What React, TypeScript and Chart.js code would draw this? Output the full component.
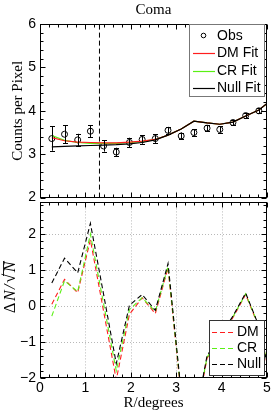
import React, { useEffect, useRef } from "react";
import { Chart, registerables } from "chart.js";
Chart.register(...registerables);

// ---- data ----
const xObs = [0.26, 0.54, 0.83, 1.11, 1.40, 1.68, 1.97, 2.25, 2.54, 2.82, 3.11, 3.39, 3.68, 3.96, 4.25, 4.53, 4.82];
const obs = [3.36, 3.46, 3.33, 3.53, 3.19, 3.05, 3.27, 3.34, 3.36, 3.55, 3.42, 3.50, 3.60, 3.57, 3.73, 3.89, 4.00];
const obsErr = [0.28, 0.21, 0.14, 0.14, 0.13, 0.10, 0.11, 0.10, 0.10, 0.08, 0.08, 0.07, 0.07, 0.07, 0.06, 0.06, 0.06];

const xFit = [0.26, 0.54, 0.83, 1.11, 1.40, 1.68, 1.97, 2.25, 2.54, 2.82, 3.11, 3.39, 3.68, 3.96, 4.25, 4.53, 4.82, 5.11];
const dmFit = [3.38, 3.31, 3.28, 3.27, 3.26, 3.26, 3.28, 3.30, 3.34, 3.44, 3.58, 3.76, 3.72, 3.69, 3.74, 3.88, 4.02, 4.26];
const crFit = [3.43, 3.32, 3.27, 3.25, 3.25, 3.25, 3.27, 3.29, 3.34, 3.44, 3.58, 3.76, 3.72, 3.69, 3.74, 3.88, 4.02, 4.26];
const nullFit = [3.17, 3.18, 3.19, 3.20, 3.21, 3.22, 3.24, 3.27, 3.33, 3.44, 3.58, 3.76, 3.72, 3.69, 3.74, 3.88, 4.02, 4.26];

const dmRes = [0.05, 0.74, 0.37, 1.84, -0.14, -2.05, -0.23, 0.23, -0.21, 1.06, -2.50, -3.40, -1.45, -0.90, -0.32, 0.32, -0.58, -2.20];
const crRes = [-0.28, 0.70, 0.40, 2.00, 0.07, -1.80, -0.10, 0.23, -0.15, 1.10, -2.45, -3.35, -1.42, -0.88, -0.30, 0.34, -0.56, -2.18];
const nullRes = [0.64, 1.33, 0.92, 2.30, 0.33, -1.60, 0.02, 0.32, -0.12, 1.18, -2.40, -3.30, -1.38, -0.85, -0.28, 0.36, -0.55, -2.15];

const cutR = 1.31;
const xTickLabels = [0, 1, 2, 3, 4, 5];

const SANS = '"Liberation Sans", Arial, sans-serif';
const SERIF = '"Liberation Serif", "Times New Roman", serif';
const RED = "rgb(255,30,30)";
const GREEN = "rgb(90,240,20)";

const pts = (xs: number[], ys: number[]) => xs.map((x, i) => ({ x, y: ys[i] }));

function drawFrameAndTicks(chart: any, yMin: number, yMax: number, topTicks: boolean, bottomTicks: boolean) {
  const { ctx, chartArea: a, scales } = chart;
  const xs = scales.x, ys = scales.y;
  ctx.save();
  ctx.strokeStyle = "#000";
  ctx.lineWidth = 1;
  const L = Math.round(a.left) + 0.5, R = Math.round(a.right) - 0.5;
  const T = Math.round(a.top) + 0.5, B = Math.round(a.bottom) - 0.5;
  ctx.beginPath();
  for (let k = 0; k <= 25; k++) {
    const v = k * 0.2;
    const px = Math.round(xs.getPixelForValue(v)) + 0.5;
    const len = k % 5 === 0 ? 5 : 3;
    if (bottomTicks) { ctx.moveTo(px, B); ctx.lineTo(px, B - len); }
    if (topTicks) { ctx.moveTo(px, T); ctx.lineTo(px, T + len); }
  }
  const n = Math.round((yMax - yMin) / 0.2);
  for (let k = 0; k <= n; k++) {
    const v = yMin + k * 0.2;
    if (v > yMax + 1e-6) break;
    const py = Math.round(ys.getPixelForValue(v)) + 0.5;
    const len = k % 5 === 0 ? 5 : 3;
    ctx.moveTo(L, py); ctx.lineTo(L + len, py);
    ctx.moveTo(R, py); ctx.lineTo(R - len, py);
  }
  ctx.stroke();
  ctx.strokeRect(L, T, R - L, B - T);
  ctx.restore();
}

const topPlugin = {
  id: "topDecor",
  afterDatasetsDraw(chart: any) {
    const { ctx, scales } = chart;
    const xs = scales.x, ys = scales.y;
    ctx.save();
    ctx.strokeStyle = "#000";
    ctx.lineWidth = 1;
    ctx.beginPath();
    xObs.forEach((xv, i) => {
      const px = Math.round(xs.getPixelForValue(xv)) + 0.5;
      const y1 = ys.getPixelForValue(obs[i] - obsErr[i]);
      const y2 = ys.getPixelForValue(obs[i] + obsErr[i]);
      ctx.moveTo(px, y1); ctx.lineTo(px, y2);
      ctx.moveTo(px - 2.5, Math.round(y1) + 0.5); ctx.lineTo(px + 2.5, Math.round(y1) + 0.5);
      ctx.moveTo(px - 2.5, Math.round(y2) + 0.5); ctx.lineTo(px + 2.5, Math.round(y2) + 0.5);
    });
    ctx.stroke();
    ctx.restore();
  },
  afterDraw(chart: any) {
    const { ctx, chartArea: a } = chart;
    drawFrameAndTicks(chart, 2, 6, true, true);
    ctx.save();
    ctx.fillStyle = "#000";
    ctx.font = `15px ${SERIF}`;
    ctx.textAlign = "center";
    ctx.textBaseline = "middle";
    ctx.fillText("Coma", (a.left + a.right) / 2, 10);
    ctx.save();
    ctx.translate(18, (a.top + a.bottom) / 2);
    ctx.rotate(-Math.PI / 2);
    ctx.fillText("Counts per Pixel", 0, 0);
    ctx.restore();
    // legend
    const bx = 189.5, by = 24.5, bw = 75, bh = 72;
    ctx.fillStyle = "#fff";
    ctx.fillRect(bx, by, bw, bh);
    ctx.strokeStyle = "#777";
    ctx.lineWidth = 1;
    ctx.strokeRect(bx, by, bw, bh);
    ctx.font = `14px ${SANS}`;
    ctx.textAlign = "left";
    ctx.textBaseline = "middle";
    const rows = [
      { t: "Obs", y: 35.5, c: null },
      { t: "DM Fit", y: 53, c: RED },
      { t: "CR Fit", y: 70.5, c: GREEN },
      { t: "Null Fit", y: 88, c: "#000" },
    ];
    rows.forEach((r) => {
      if (r.c) {
        ctx.strokeStyle = r.c;
        ctx.lineWidth = 1.2;
        ctx.beginPath();
        ctx.moveTo(193, Math.round(r.y) + 0.5);
        ctx.lineTo(215, Math.round(r.y) + 0.5);
        ctx.stroke();
      } else {
        ctx.strokeStyle = "#000";
        ctx.lineWidth = 1;
        ctx.beginPath();
        ctx.arc(203.5, r.y, 2.3, 0, Math.PI * 2);
        ctx.stroke();
      }
      ctx.fillStyle = "#000";
      ctx.fillText(r.t, 217, r.y + 0.5);
    });
    ctx.restore();
  },
};

const bottomPlugin = {
  id: "bottomDecor",
  beforeDatasetsDraw(chart: any) {
    const { ctx, chartArea: a, scales } = chart;
    ctx.save();
    ctx.strokeStyle = "#b8b8b8";
    ctx.lineWidth = 1;
    ctx.setLineDash([1, 2]);
    ctx.beginPath();
    [1, 2, 3, 4].forEach((v) => {
      const px = Math.round(scales.x.getPixelForValue(v)) + 0.5;
      ctx.moveTo(px, a.top); ctx.lineTo(px, a.bottom);
    });
    [-1, 0, 1, 2].forEach((v) => {
      const py = Math.round(scales.y.getPixelForValue(v)) + 0.5;
      ctx.moveTo(a.left, py); ctx.lineTo(a.right, py);
    });
    ctx.stroke();
    ctx.restore();
  },
  afterDraw(chart: any) {
    const { ctx, chartArea: a } = chart;
    drawFrameAndTicks(chart, -2, 2.88, true, true);
    ctx.save();
    ctx.fillStyle = "#000";
    ctx.font = `15px ${SERIF}`;
    ctx.textAlign = "center";
    ctx.textBaseline = "middle";
    ctx.fillText("R/degrees", (a.left + a.right) / 2, 213);
    // y title: ΔN/√N
    ctx.save();
    ctx.translate(11, (a.top + a.bottom) / 2 - 3);
    ctx.rotate(-Math.PI / 2);
    ctx.textAlign = "left";
    ctx.textBaseline = "middle";
    const parts = [
      { t: "Δ", f: `16px ${SERIF}` },
      { t: "N", f: `italic 16px ${SERIF}` },
      { t: "/", f: `italic 16px ${SERIF}` },
      { t: "√", f: `17px ${SERIF}` },
      { t: "N", f: `italic 16px ${SERIF}` },
    ];
    const gap = 1.5;
    const widths = parts.map((p) => { ctx.font = p.f; return ctx.measureText(p.t).width; });
    const total = widths.reduce((s, w) => s + w, 0) + gap * (parts.length - 1);
    let xx = -total / 2;
    let olStart = 0;
    parts.forEach((p, i) => {
      ctx.font = p.f;
      ctx.fillText(p.t, xx, 0);
      if (i === 3) olStart = xx + widths[i] * 0.75;
      xx += widths[i] + (i < parts.length - 1 ? gap : 0);
    });
    ctx.strokeStyle = "#000";
    ctx.lineWidth = 0.9;
    ctx.beginPath();
    ctx.moveTo(olStart, -7.5);
    ctx.lineTo(xx + 0.5, -7.5);
    ctx.stroke();
    ctx.restore();
    // legend
    const bx = 209.5, by = 320.5 - 190, bw = 55, bh = 55;
    ctx.fillStyle = "#fff";
    ctx.fillRect(bx, by, bw, bh);
    ctx.strokeStyle = "#333";
    ctx.lineWidth = 1;
    ctx.strokeRect(bx, by, bw, bh);
    ctx.font = `14px ${SANS}`;
    ctx.textAlign = "left";
    ctx.textBaseline = "middle";
    const rows = [
      { t: "DM", y: 332 - 190, c: RED },
      { t: "CR", y: 348 - 190, c: GREEN },
      { t: "Null", y: 364 - 190, c: "#000" },
    ];
    rows.forEach((r) => {
      ctx.strokeStyle = r.c;
      ctx.lineWidth = 1.1;
      ctx.setLineDash([5, 3]);
      ctx.beginPath();
      ctx.moveTo(212, r.y + 0.5);
      ctx.lineTo(235, r.y + 0.5);
      ctx.stroke();
      ctx.setLineDash([]);
      ctx.fillStyle = "#000";
      ctx.fillText(r.t, 237, r.y + 0.5);
    });
    ctx.restore();
  },
};

const minusFmt = (v: any) => String(v).replace("-", "\u2212");

export default function App() {
  const topRef = useRef<HTMLCanvasElement | null>(null);
  const botRef = useRef<HTMLCanvasElement | null>(null);

  useEffect(() => {
    const top = new Chart(topRef.current as HTMLCanvasElement, {
      type: "scatter",
      data: {
        datasets: [
          { label: "Null Fit", data: pts(xFit, nullFit), showLine: true, borderColor: "#000", borderWidth: 1.2, pointRadius: 0 },
          { label: "DM Fit", data: pts(xFit, dmFit), showLine: true, borderColor: RED, borderWidth: 1.2, pointRadius: 0 },
          { label: "CR Fit", data: pts(xFit, crFit), showLine: true, borderColor: GREEN, borderWidth: 1.2, pointRadius: 0 },
          { label: "Obs", data: pts(xObs, obs), showLine: false, pointRadius: 3, pointBorderWidth: 1, pointBorderColor: "#000", pointBackgroundColor: "rgba(0,0,0,0)", borderColor: "#000", backgroundColor: "rgba(0,0,0,0)" },
          { label: "cut", data: [{ x: cutR, y: 2 }, { x: cutR, y: 6 }], showLine: true, borderColor: "#000", borderWidth: 1, borderDash: [5, 3], pointRadius: 0 },
        ],
      } as any,
      options: {
        animation: false,
        responsive: false,
        layout: { padding: { left: 0, right: 7, top: 24, bottom: 0 } },
        plugins: { legend: { display: false }, tooltip: { enabled: false }, title: { display: false } },
        scales: {
          x: {
            type: "linear", min: 0, max: 5,
            ticks: { display: false },
            grid: { display: false, drawTicks: false },
            border: { display: false },
            afterFit: (s: any) => { s.height = 10; },
          },
          y: {
            type: "linear", min: 2, max: 6,
            ticks: { stepSize: 1, color: "#000", font: { family: SANS, size: 14 }, padding: 4 },
            grid: { display: false, drawTicks: false },
            border: { display: false },
            afterFit: (s: any) => { s.width = 40; },
          },
        },
      } as any,
      plugins: [topPlugin],
    });

    const bot = new Chart(botRef.current as HTMLCanvasElement, {
      type: "scatter",
      data: {
        datasets: [
          { label: "Null", data: pts(xFit, nullRes), showLine: true, borderColor: "#000", borderWidth: 1.1, borderDash: [5, 3], pointRadius: 0 },
          { label: "CR", data: pts(xFit, crRes), showLine: true, borderColor: GREEN, borderWidth: 1.1, borderDash: [5, 3], pointRadius: 0 },
          { label: "DM", data: pts(xFit, dmRes), showLine: true, borderColor: RED, borderWidth: 1.1, borderDash: [5, 3], pointRadius: 0 },
        ],
      } as any,
      options: {
        animation: false,
        responsive: false,
        layout: { padding: { left: 0, right: 7, top: 11, bottom: 0 } },
        plugins: { legend: { display: false }, tooltip: { enabled: false }, title: { display: false } },
        scales: {
          x: {
            type: "linear", min: 0, max: 5,
            afterBuildTicks: (s: any) => { s.ticks = xTickLabels.map((v) => ({ value: v })); },
            ticks: { stepSize: 1, color: "#000", font: { family: SANS, size: 14 }, padding: 2, maxRotation: 0 },
            grid: { display: false, drawTicks: false },
            border: { display: false },
            afterFit: (s: any) => { s.height = 35; },
          },
          y: {
            type: "linear", min: -2, max: 2.88,
            ticks: { stepSize: 1, includeBounds: false, color: "#000", font: { family: SANS, size: 14 }, padding: 4, callback: minusFmt },
            grid: { display: false, drawTicks: false },
            border: { display: false },
            afterFit: (s: any) => { s.width = 40; },
          },
        },
      } as any,
      plugins: [bottomPlugin],
    });

    return () => { top.destroy(); bot.destroy(); };
  }, []);

  return (
    <div style={{ position: "fixed", left: 0, top: 0, width: 274, height: 413, background: "#fff" }}>
      <canvas ref={topRef} width={274} height={210} style={{ position: "absolute", left: 0, top: 0, width: 274, height: 210 }} />
      <canvas ref={botRef} width={274} height={223} style={{ position: "absolute", left: 0, top: 190, width: 274, height: 223 }} />
    </div>
  );
}
